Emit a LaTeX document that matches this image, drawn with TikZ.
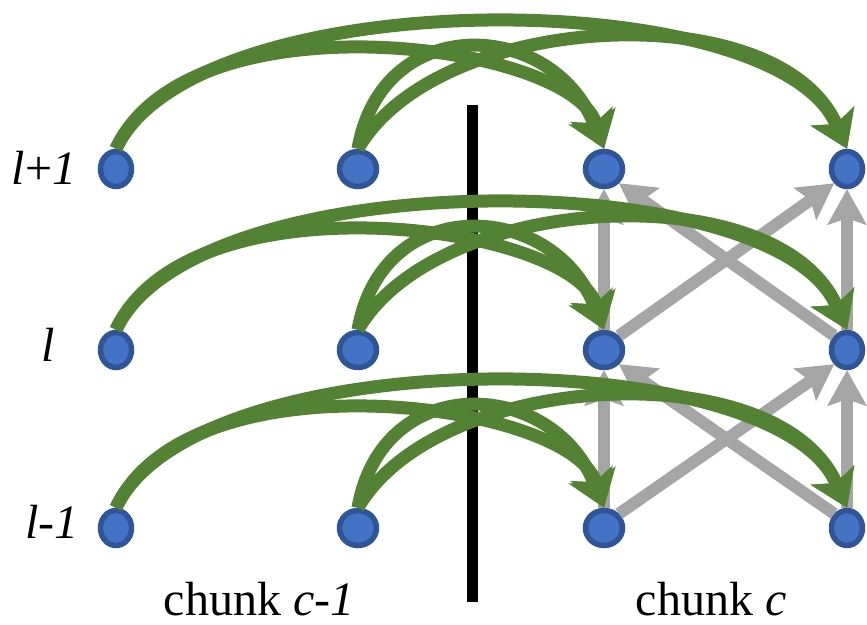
\documentclass[tikz,border=0pt]{standalone}
\usepackage{fontspec}
\setmainfont{Liberation Serif}
\usepackage{tikz}
\usetikzlibrary{shapes.geometric,arrows.meta,positioning}

\definecolor{unitfill}{HTML}{4472C4}
\definecolor{unitline}{HTML}{2F5597}
\definecolor{memgreen}{HTML}{548235}
\definecolor{depgray}{HTML}{A5A5A5}

\begin{document}
\begin{tikzpicture}[x=1pt, y=1pt,
  unit/.style={ellipse, draw=unitline, fill=unitfill, line width=5.5pt,
    minimum width=31pt, minimum height=35pt, inner sep=0pt},
  wideunit/.style={unit, minimum width=37pt},
  rowlabel/.style={anchor=base, inner sep=1pt,
    font=\rmfamily\fontsize{48}{50}\selectfont},
  dep/.style={draw=depgray, line width=12pt,
    -{Stealth[length=36pt, width=40pt, inset=7pt, line width=0pt]}},
  mem/.style={draw=memgreen, line width=13pt,
    -{Stealth[length=36pt, width=48pt, inset=9pt, line width=0pt]}}]

  \useasboundingbox (0,0) rectangle (867,624);

  % Chunk boundary
  \coordinate (bartop) at (472.5,519);
  \coordinate (barbot) at (472.5,22);
  \draw[line width=11pt] (bartop) -- (barbot);

  % Hidden units of layers l+1, l, l-1
  \foreach \r/\y in {top/455, mid/274, bot/96} {
    \node[unit] (a-\r) at (116,\y) {};
    \node[wideunit] (b-\r) at (358,\y) {};
    \node[wideunit] (c-\r) at (604,\y) {};
    \node[unit] (d-\r) at (847,\y) {};
  }

  % Layer labels
  \node[rowlabel] (lab-top) at (44,439) {\textit{l}+\textit{1}};
  \node[rowlabel] (lab-mid) at (48,262) {\textit{l}};
  \node[rowlabel] (lab-bot) at (52,86) {\textit{l}-\textit{1}};

  % Chunk labels
  \node[rowlabel] (chunk-prev) at (259,9) {chunk \textit{c}-\textit{1}};
  \node[rowlabel] (chunk-cur) at (711,9) {chunk \textit{c}};

  % Dependencies inside chunk c
  \foreach \lo/\hi in {mid/top, bot/mid} {
    \draw[dep] (c-\lo.north) -- (c-\hi.south);
    \draw[dep] (d-\lo.north) -- (d-\hi.south);
    \draw[dep] (c-\lo.north east) -- (d-\hi.south west);
    \draw[dep] (d-\lo.north west) -- (c-\hi.south east);
  }

  % Memory carried over from chunk c-1
  \foreach \r in {top, mid, bot} {
    \draw[mem] (a-\r.north) .. controls +(65:185) and +(114:183) .. (d-\r.north);
    \draw[mem] (a-\r.north) .. controls +(65:172) and +(108:112) .. (c-\r.north);
    \draw[mem] (b-\r.north) .. controls +(60:160) and +(114:170) .. (d-\r.north);
    \draw[mem] (b-\r.north) .. controls +(80:140) and +(112:140) .. (c-\r.north);
  }
\end{tikzpicture}
\end{document}
